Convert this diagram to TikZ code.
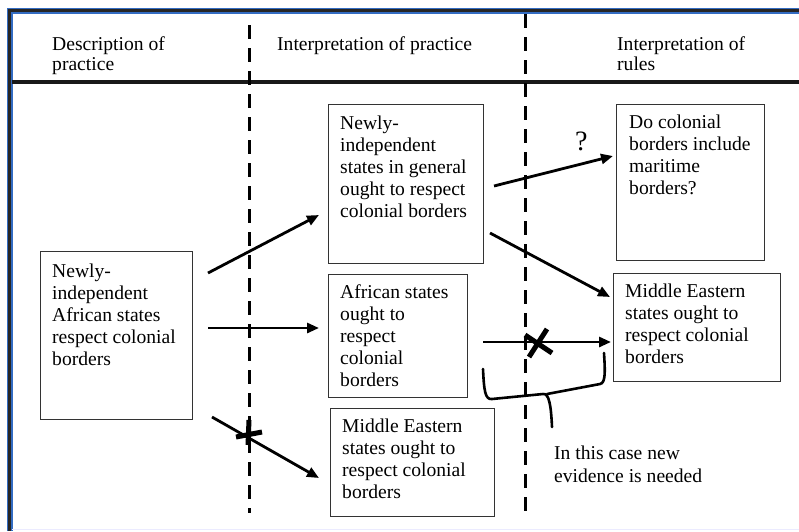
\documentclass[tikz,border=0pt]{standalone}
\usepackage{fontspec}
\setmainfont{Liberation Serif}
\usetikzlibrary{arrows.meta}

\begin{document}
\begin{tikzpicture}[x=1pt,y=-1pt,
  box/.style={draw=black!80,line width=.9pt,anchor=north west,inner sep=0pt},
  txt/.style={anchor=base west,align=left,inner sep=0pt,font=\fontsize{19.6}{22}\selectfont},
  arr/.style={line width=2.8pt,-{Triangle[length=12pt,width=10pt]}},
  sep/.style={line width=3pt,dash pattern=on 14pt off 9pt},
  cross/.style={line width=5pt}]
\useasboundingbox (0,0) rectangle (799,531);
% frame
\draw[line width=6pt,blue!60!cyan!70!black!80] (9.5,531) -- (9.5,10.5) -- (799,10.5);
\draw[line width=3pt,black!85] (9.5,531) -- (9.5,10.5) -- (799,10.5);
\draw[line width=1.5pt,blue!8] (12,529.5) -- (799,529.5);
% header (base anchor = last line)
\draw[line width=3.5pt,black!90] (12,82) -- (799,82);
\draw[sep] (249,25) -- (249,513);
\draw[sep] (525,14) -- (525,513);
\node[txt,font=\fontsize{19.6}{20}\selectfont] (h1) at (52,70) {Description of\\practice};
\node[txt,font=\fontsize{19.6}{20}\selectfont] (h2) at (277,50) {Interpretation of practice};
\node[txt,font=\fontsize{19.6}{20}\selectfont] (h3) at (617,70) {Interpretation of\\rules};
% boxes
\node[box,minimum width=152pt,minimum height=168pt] (A) at (40,251) {};
\node[box,minimum width=155pt,minimum height=159pt] (B) at (328,104) {};
\node[box,minimum width=139pt,minimum height=123pt] (C) at (328,274) {};
\node[box,minimum width=164pt,minimum height=108pt] (D) at (330,408) {};
\node[box,minimum width=148pt,minimum height=156pt] (E) at (616,104) {};
\node[box,minimum width=167pt,minimum height=108pt] (F) at (613,273) {};
\node[txt] (Atext) at (52,365) {Newly-\\independent\\African states\\respect colonial\\borders};
\node[txt] (Btext) at (340,217) {Newly-\\independent\\states in general\\ought to respect\\colonial borders};
\node[txt] (Ctext) at (340,386) {African states\\ought to\\respect\\colonial\\borders};
\node[txt] (Dtext) at (342,498) {Middle Eastern\\states ought to\\respect colonial\\borders};
\node[txt] (Etext) at (629,194) {Do colonial\\borders include\\maritime\\borders?};
\node[txt] (Ftext) at (625,363) {Middle Eastern\\states ought to\\respect colonial\\borders};
\node[txt,font=\fontsize{19.6}{23}\selectfont] (note) at (554,482) {In this case new\\evidence is needed};
\node[txt,font=\fontsize{28}{30}\selectfont] (q) at (575,150) {?};
% arrows
\coordinate (a1) at (208,273);
\coordinate (b1) at (319,215);
\coordinate (a2) at (208,328);
\coordinate (c1) at (319,328);
\coordinate (a3) at (212,417);
\coordinate (d1) at (319,478);
\coordinate (b2) at (494,186);
\coordinate (e1) at (613,156);
\coordinate (b3) at (490,233);
\coordinate (f1) at (610,297);
\coordinate (c2) at (483,342);
\coordinate (f2) at (611,342);
\draw[arr] (a1) -- (b1);
\draw[arr] (a2) -- (c1);
\draw[arr] (a3) -- (d1);
\draw[arr] (b2) -- (e1);
\draw[arr] (b3) -- (f1);
\draw[arr] (c2) -- (f2);
% crossed out
\draw[cross] (236,437) -- (262,432) (249,420) -- (248,445);
\draw[cross] (525,335) -- (552,353) (547,329) -- (529,357);
% brace
\draw[line width=2.6pt,line cap=round,line join=round]
  (483,369) .. controls (484,390) and (485,400) .. (492,399) -- (543,394)
  .. controls (549,393) and (551,405) .. (552,427)
  (547,394) -- (600,384) .. controls (606,383) and (605,370) .. (604,353);
\end{tikzpicture}
\end{document}
